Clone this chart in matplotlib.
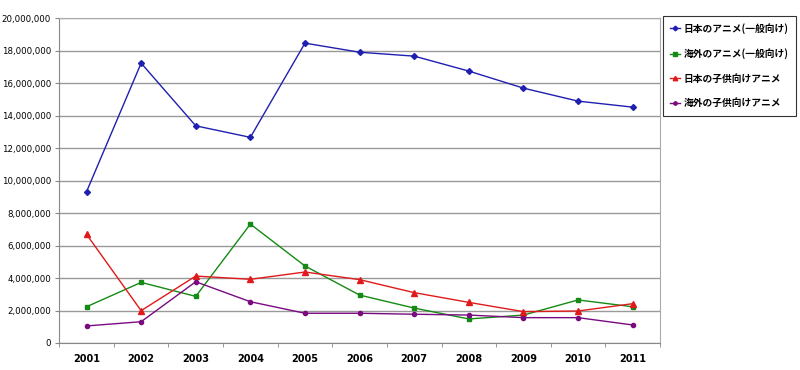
import numpy as np
import matplotlib.pyplot as plt
from matplotlib.ticker import FuncFormatter, FixedLocator

plt.rcParams['font.family'] = ['Noto Sans CJK JP', 'DejaVu Sans']

# Data
years = ["2001", "2002", "2003", "2004", "2005", "2006", "2007", "2008", "2009", "2010", "2011"]
jp_general = [9310000, 17230000, 13370000, 12660000, 18460000, 17900000, 17660000, 16740000, 15690000, 14890000, 14520000]
fr_general = [2230000, 3730000, 2870000, 7320000, 4740000, 2950000, 2150000, 1480000, 1720000, 2650000, 2230000]
jp_kids = [6690000, 1990000, 4120000, 3920000, 4370000, 3900000, 3100000, 2500000, 1930000, 1970000, 2420000]
fr_kids = [1050000, 1310000, 3770000, 2540000, 1830000, 1830000, 1770000, 1720000, 1560000, 1560000, 1110000]

labels = ["日本のアニメ(一般向け)", "海外のアニメ(一般向け)", "日本の子供向けアニメ", "海外の子供向けアニメ"]

fig = plt.figure(figsize=(8, 3.7), dpi=100)
ax = fig.add_axes([0.074, 0.073, 0.751, 0.878])

x = np.arange(len(years))
ax.plot(x, jp_general, color="#1f1fb0", marker="D", markersize=3, linewidth=1, label=labels[0])
ax.plot(x, fr_general, color="#158a15", marker="s", markersize=3, linewidth=1, label=labels[1])
ax.plot(x, jp_kids, color="#e01a1a", marker="^", markersize=4, linewidth=1, label=labels[2])
ax.plot(x, fr_kids, color="#7a0a80", marker="o", markersize=3, linewidth=1, label=labels[3])

ax.set_xlim(-0.5, len(years) - 0.5)
ax.set_ylim(0, 20000000)
ax.set_yticks(np.arange(0, 20000001, 2000000))
ax.yaxis.set_major_formatter(FuncFormatter(lambda v, p: f"{int(v):,}"))
ax.grid(axis="y", color="#999999", linewidth=1)
ax.set_axisbelow(True)

ax.set_xticks(x)
ax.set_xticklabels(years, fontweight="bold", fontsize=7, family="DejaVu Sans")
ax.xaxis.set_minor_locator(FixedLocator(np.arange(-0.5, len(years), 1)))
ax.tick_params(axis="x", which="major", length=0, pad=8)
ax.tick_params(axis="x", which="minor", length=3, color="#888888")
ax.tick_params(axis="y", length=3, color="#888888", labelsize=6.2, pad=3)
for lab in ax.get_yticklabels():
    lab.set_family("DejaVu Sans")

for s in ax.spines.values():
    s.set_color("#aaaaaa")
ax.spines["left"].set_color("#888888")
ax.spines["bottom"].set_color("#888888")

leg = fig.legend(loc="upper left", bbox_to_anchor=(0.829, 0.958), fontsize=7.0,
                 frameon=True, fancybox=False, edgecolor="black", handlelength=1.0,
                 handletextpad=0.35, labelspacing=1.5, borderpad=0.75, borderaxespad=0,
                 markerscale=0.8)
leg.get_frame().set_linewidth(0.8)
for t in leg.get_texts():
    t.set_fontweight("bold")

fig.savefig("out.png", dpi=100)
